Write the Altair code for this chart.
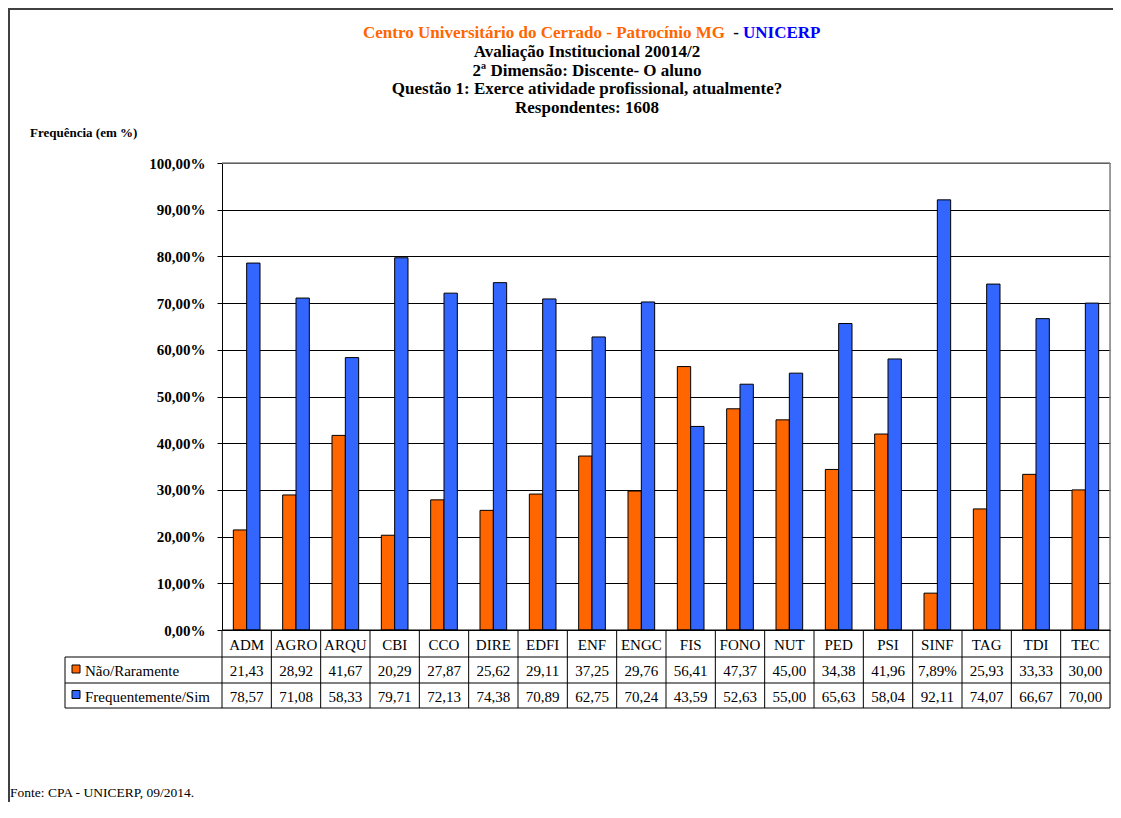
import altair as alt
import pandas as pd

# ---------------- data ----------------
categories = ["ADM", "AGRO", "ARQU", "CBI", "CCO", "DIRE", "EDFI", "ENF", "ENGC",
              "FIS", "FONO", "NUT", "PED", "PSI", "SINF", "TAG", "TDI", "TEC"]
nao = [21.43, 28.92, 41.67, 20.29, 27.87, 25.62, 29.11, 37.25, 29.76,
       56.41, 47.37, 45.00, 34.38, 41.96, 7.89, 25.93, 33.33, 30.00]
freq = [78.57, 71.08, 58.33, 79.71, 72.13, 74.38, 70.89, 62.75, 70.24,
        43.59, 52.63, 55.00, 65.63, 58.04, 92.11, 74.07, 66.67, 70.00]
series = ["Não/Raramente", "Frequentemente/Sim"]
colors = ["#FF6600", "#3366FF"]
y_ticks = [0, 10, 20, 30, 40, 50, 60, 70, 80, 90, 100]
# cells that the original table shows in percent format
pct_cells = [("Não/Raramente", "SINF")]

title_orange = "Centro Universitário do Cerrado - Patrocínio MG"
title_sep = "-"
title_blue = "UNICERP"
title_lines = ["Avaliação Institucional 20014/2",
               "2ª Dimensão: Discente- O aluno",
               "Questão 1: Exerce atividade profissional, atualmente?",
               "Respondentes:  1608"]
axis_title = "Frequência (em %)"
footer = "Fonte: CPA - UNICERP, 09/2014."

FONT = "Times New Roman, Liberation Serif, serif"
W, H = 888, 467
TS = 17  # title font size


def fmt(s, c, v):
    t = f"{v:.2f}".replace(".", ",")
    if (s, c) in pct_cells:
        t += "%"
    return t


rows = []
for s, vals in zip(series, [nao, freq]):
    for c, v in zip(categories, vals):
        rows.append({"cat": c, "series": s, "value": v, "label": fmt(s, c, v)})
df = pd.DataFrame(rows)
cat_df = pd.DataFrame({"cat": categories})
one = pd.DataFrame({"k": [0]})

xcat = alt.X("cat:N", sort=categories,
             scale=alt.Scale(paddingInner=0, paddingOuter=0), axis=None)

# ---------------- bars ----------------
bars = alt.Chart(df).mark_bar(stroke="black", strokeWidth=1).encode(
    x=xcat,
    xOffset=alt.XOffset("series:N", sort=series,
                        scale=alt.Scale(paddingInner=0, paddingOuter=0.85)),
    y=alt.Y("value:Q", scale=alt.Scale(domain=[0, 100]),
            axis=alt.Axis(values=y_ticks,
                          labelExpr="replace(format(datum.value, '.2f'), '.', ',') + '%'",
                          labelFont=FONT, labelFontWeight="bold", labelFontSize=15,
                          labelColor="black", tickColor="black", tickSize=5,
                          labelPadding=12, domainColor="black", gridColor="black",
                          gridOpacity=1, grid=True, title=None)),
    color=alt.Color("series:N", scale=alt.Scale(domain=series, range=colors), legend=None),
)

layers = [bars]

# plot frame (gray top / right)
layers.append(alt.Chart(one).mark_rule(color="#808080", strokeWidth=1.5).encode(
    x=alt.value(0), x2=alt.value(W), y=alt.value(0)))
layers.append(alt.Chart(one).mark_rule(color="#808080", strokeWidth=1.5).encode(
    x=alt.value(W), y=alt.value(0), y2=alt.value(H)))

# ---------------- data table ----------------
row_lines = [H, H + 27, H + 53, H + 78]
layers.append(alt.Chart(one).mark_rule(color="black", strokeWidth=1).encode(
    x=alt.value(0), x2=alt.value(W), y=alt.value(row_lines[0])))
for yl in row_lines[1:]:
    layers.append(alt.Chart(one).mark_rule(color="black", strokeWidth=1).encode(
        x=alt.value(-157), x2=alt.value(W), y=alt.value(yl)))
# vertical column lines
layers.append(alt.Chart(cat_df).mark_rule(color="black", strokeWidth=1).encode(
    x=alt.X("cat:N", sort=categories, bandPosition=0),
    y=alt.value(row_lines[0]), y2=alt.value(row_lines[3])))
layers.append(alt.Chart(one).mark_rule(color="black", strokeWidth=1).encode(
    x=alt.value(W), y=alt.value(row_lines[0]), y2=alt.value(row_lines[3])))
layers.append(alt.Chart(one).mark_rule(color="black", strokeWidth=1).encode(
    x=alt.value(-157), y=alt.value(row_lines[1]), y2=alt.value(row_lines[3])))

# header row
layers.append(alt.Chart(cat_df).mark_text(font=FONT, fontSize=15, baseline="middle",
                                          color="black").encode(
    x=alt.X("cat:N", sort=categories), y=alt.value((row_lines[0] + row_lines[1]) / 2 + 1),
    text="cat:N"))

# value rows + legend cells
for i, s in enumerate(series):
    yc = (row_lines[i + 1] + row_lines[i + 2]) / 2 + 1
    layers.append(alt.Chart(df).transform_filter(alt.datum.series == s).mark_text(
        font=FONT, fontSize=15, baseline="middle", color="black").encode(
        x=alt.X("cat:N", sort=categories), y=alt.value(yc), text="label:N"))
    layers.append(alt.Chart(one).mark_square(size=64, stroke="black", strokeWidth=1,
                                             opacity=1, fill=colors[i]).encode(
        x=alt.value(-146), y=alt.value(yc - 2)))
    layers.append(alt.Chart(one).mark_text(font=FONT, fontSize=15, baseline="middle",
                                           align="left", color="black").encode(
        x=alt.value(-137), y=alt.value(yc), text=alt.value(s)))

# ---------------- titles ----------------
layers.append(alt.Chart(one).mark_text(font=FONT, fontSize=TS, fontWeight="bold",
                                       baseline="middle", align="right",
                                       color="#FF6600").encode(
    x=alt.value(503), y=alt.value(-130), text=alt.value(title_orange)))
layers.append(alt.Chart(one).mark_text(font=FONT, fontSize=TS, fontWeight="bold",
                                       baseline="middle", align="center",
                                       color="black").encode(
    x=alt.value(514), y=alt.value(-130), text=alt.value(title_sep)))
layers.append(alt.Chart(one).mark_text(font=FONT, fontSize=TS, fontWeight="bold",
                                       baseline="middle", align="left",
                                       color="#0000FF").encode(
    x=alt.value(521), y=alt.value(-130), text=alt.value(title_blue)))
for k, line in enumerate(title_lines):
    layers.append(alt.Chart(one).mark_text(font=FONT, fontSize=TS, fontWeight="bold",
                                           baseline="middle", align="center",
                                           color="black").encode(
        x=alt.value(365), y=alt.value(-111 + 18.7 * k), text=alt.value(line)))

layers.append(alt.Chart(one).mark_text(font=FONT, fontSize=13, fontWeight="bold",
                                       baseline="middle", align="left",
                                       color="black").encode(
    x=alt.value(-192), y=alt.value(-30), text=alt.value(axis_title)))

layers.append(alt.Chart(one).mark_text(font=FONT, fontSize=13.5, baseline="middle",
                                       align="left", color="black").encode(
    x=alt.value(-212), y=alt.value(630), text=alt.value(footer)))

# outer border (top / left)
layers.append(alt.Chart(one).mark_rule(color="#404040", strokeWidth=2).encode(
    x=alt.value(-214), x2=alt.value(W + 3), y=alt.value(-154)))
layers.append(alt.Chart(one).mark_rule(color="#404040", strokeWidth=2).encode(
    x=alt.value(-213), y=alt.value(-155), y2=alt.value(H + 172)))

chart = alt.layer(*layers).properties(
    width=W, height=H,
    autosize=alt.AutoSizeParams(type="none"),
    padding={"left": 214, "top": 155, "right": 3, "bottom": 172},
    background="white",
).configure_view(fill="#C0C0C0", stroke=None).configure(font=FONT)

chart.save("out.html", embed_options={"renderer": "svg", "actions": False})
